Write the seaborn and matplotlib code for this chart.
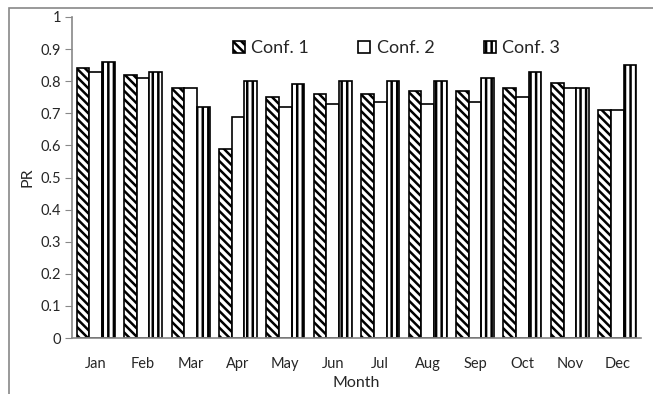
import matplotlib
matplotlib.use("Agg")
import matplotlib.pyplot as plt
import seaborn as sns
import pandas as pd
from matplotlib.patches import Rectangle, Patch

months = ["Jan", "Feb", "Mar", "Apr", "May", "Jun", "Jul", "Aug", "Sep", "Oct", "Nov", "Dec"]
conf1 = [0.84, 0.82, 0.78, 0.59, 0.75, 0.76, 0.76, 0.77, 0.77, 0.78, 0.795, 0.71]
conf2 = [0.83, 0.81, 0.78, 0.69, 0.72, 0.73, 0.735, 0.73, 0.735, 0.75, 0.78, 0.71]
conf3 = [0.86, 0.83, 0.72, 0.80, 0.79, 0.80, 0.80, 0.80, 0.81, 0.83, 0.78, 0.85]
series_names = ["Conf. 1", "Conf. 2", "Conf. 3"]
yticks = [0, 0.1, 0.2, 0.3, 0.4, 0.5, 0.6, 0.7, 0.8, 0.9, 1]

df = pd.DataFrame({
    "Month": months * 3,
    "PR": conf1 + conf2 + conf3,
    "Config": [series_names[0]] * 12 + [series_names[1]] * 12 + [series_names[2]] * 12,
})

sns.set_style("white")
plt.rcParams["font.family"] = ["Lato", "DejaVu Sans"]
plt.rcParams["hatch.linewidth"] = 1.8
plt.rcParams["hatch.color"] = "black"

fig = plt.figure(figsize=(6.53, 3.94), dpi=100)
ax = fig.add_axes([72/653, 1-338/394, (641-72)/653, (338-17)/394])

sns.barplot(data=df, x="Month", y="PR", hue="Config", order=months,
            hue_order=series_names, palette=["white"] * 3, width=0.8,
            edgecolor="black", linewidth=1.2, ax=ax, legend=False)

hatches = ["\\\\\\\\", "", "|||"]
for cont, h in zip(ax.containers, hatches):
    for p in cont.patches:
        p.set_hatch(h)
        p.set_facecolor("white")
        p.set_edgecolor("black")

ax.set_ylim(0, 1)
ax.set_xlim(-0.5, 11.5)
ax.set_yticks(yticks)
ax.set_yticklabels(["0" if v == 0 else ("1" if v == 1 else f"{v:.1f}") for v in yticks])
ax.tick_params(axis="y", which="major", left=True, length=5, color="#888888",
               labelsize=10.5, pad=3)
ax.tick_params(axis="x", bottom=False, labelsize=10.5, pad=10)
for s in ["top", "right"]:
    ax.spines[s].set_visible(False)
for s in ["left", "bottom"]:
    ax.spines[s].set_color("#888888")
    ax.spines[s].set_linewidth(1.2)
ax.set_xlabel("Month", fontsize=11.5, labelpad=4)
ax.set_ylabel("PR", fontsize=11.5, labelpad=4)

handles = [Patch(facecolor="white", edgecolor="black", hatch=h, linewidth=1.2) for h in hatches]
leg = ax.legend(handles, series_names, ncol=3, frameon=False, fontsize=13,
                loc="center left", bbox_to_anchor=((233 - 72) / 569, (338 - 48) / 321),
                borderaxespad=0, borderpad=0,
                handlelength=0.65, handleheight=0.65, handletextpad=0.35,
                columnspacing=2.75)

fig.patches.append(Rectangle((9/653, -0.1), 1.2, 1.1 - 8/394, transform=fig.transFigure,
                             fill=False, edgecolor="#888888", linewidth=1.2))

fig.savefig("out.png", dpi=100)
